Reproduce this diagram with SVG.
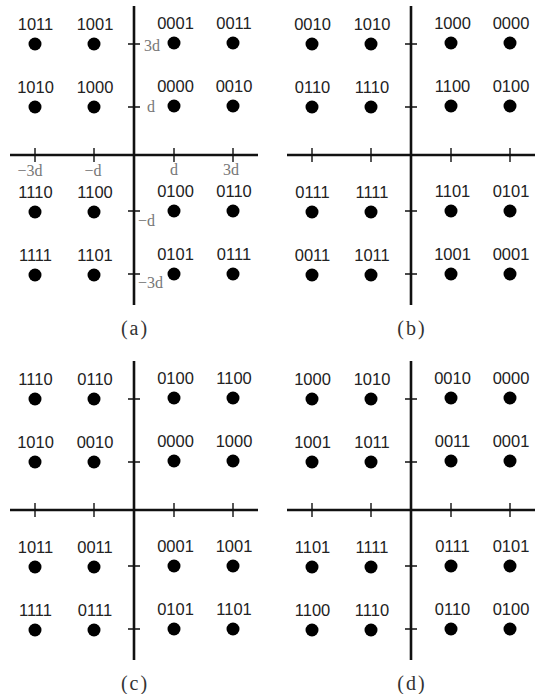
<svg xmlns="http://www.w3.org/2000/svg" width="535" height="694" viewBox="0 0 535 694">
<style>
.ax{stroke:#111;stroke-width:2.6;fill:none}
.tk{stroke:#111;stroke-width:1.4;fill:none}
.dot{fill:#000}
.lb{font-family:"Liberation Sans","Noto Sans",sans-serif;font-size:16.5px;fill:#222;text-anchor:middle}
.tl{font-family:"Liberation Serif","DejaVu Serif",serif;font-size:16px;fill:#777}
.cap{font-family:"Liberation Serif","DejaVu Serif",serif;font-size:20px;fill:#333;text-anchor:middle;letter-spacing:2px}
</style>
<defs>
<g id="axes">
<line class="ax" x1="10" y1="155" x2="258" y2="155"/>
<line class="ax" x1="134" y1="6" x2="134" y2="305"/>
<path class="tk" d="M35 148V162M94 148V162M174 148V162M233 148V162M128 44H140M128 107H140M128 211H140M128 274H140"/>
</g>
</defs>
<rect width="535" height="694" fill="#fff"/>

<!-- Panel (a) -->
<g id="panel-a">
<g id="axes-a" class="connectors"><use href="#axes"/></g>
<g id="ticklabels-a">
<text class="tl" x="144" y="51">3d</text>
<text class="tl" x="147" y="112">d</text>
<text class="tl" x="30" y="176" text-anchor="middle">−3d</text>
<text class="tl" x="93" y="176" text-anchor="middle">−d</text>
<text class="tl" x="174" y="175" text-anchor="middle">d</text>
<text class="tl" x="231" y="175" text-anchor="middle">3d</text>
<text class="tl" x="138" y="226">−d</text>
<text class="tl" x="138" y="288">−3d</text>
</g>
<g id="a-1011"><circle class="dot" cx="35" cy="44" r="6.5"/><text class="lb" x="35.5" y="30">1011</text></g>
<g id="a-1001"><circle class="dot" cx="94" cy="44" r="6.5"/><text class="lb" x="95" y="30">1001</text></g>
<g id="a-0001"><circle class="dot" cx="174" cy="43" r="6.5"/><text class="lb" x="175.5" y="28.5">0001</text></g>
<g id="a-0011"><circle class="dot" cx="233" cy="43" r="6.5"/><text class="lb" x="234" y="28.5">0011</text></g>
<g id="a-1010"><circle class="dot" cx="35" cy="107" r="6.5"/><text class="lb" x="35.5" y="93">1010</text></g>
<g id="a-1000"><circle class="dot" cx="94" cy="107" r="6.5"/><text class="lb" x="95" y="93">1000</text></g>
<g id="a-0000"><circle class="dot" cx="174" cy="106" r="6.5"/><text class="lb" x="175.5" y="91.5">0000</text></g>
<g id="a-0010"><circle class="dot" cx="233" cy="106" r="6.5"/><text class="lb" x="234" y="91.5">0010</text></g>
<g id="a-1110"><circle class="dot" cx="35" cy="212" r="6.5"/><text class="lb" x="35.5" y="198">1110</text></g>
<g id="a-1100"><circle class="dot" cx="94" cy="212" r="6.5"/><text class="lb" x="95" y="198">1100</text></g>
<g id="a-0100"><circle class="dot" cx="174" cy="211" r="6.5"/><text class="lb" x="175.5" y="196.5">0100</text></g>
<g id="a-0110"><circle class="dot" cx="233" cy="211" r="6.5"/><text class="lb" x="234" y="196.5">0110</text></g>
<g id="a-1111"><circle class="dot" cx="35" cy="275" r="6.5"/><text class="lb" x="35.5" y="261">1111</text></g>
<g id="a-1101"><circle class="dot" cx="94" cy="275" r="6.5"/><text class="lb" x="95" y="261">1101</text></g>
<g id="a-0101"><circle class="dot" cx="174" cy="274" r="6.5"/><text class="lb" x="175.5" y="259.5">0101</text></g>
<g id="a-0111"><circle class="dot" cx="233" cy="274" r="6.5"/><text class="lb" x="234" y="259.5">0111</text></g>
<text class="cap" x="135" y="335">(a)</text>
</g>

<!-- Panel (b) -->
<g id="panel-b" transform="translate(277,0)">
<g id="axes-b" class="connectors"><use href="#axes"/></g>
<g id="b-0010"><circle class="dot" cx="35" cy="44" r="6.5"/><text class="lb" x="35.5" y="30">0010</text></g>
<g id="b-1010"><circle class="dot" cx="94" cy="44" r="6.5"/><text class="lb" x="95" y="30">1010</text></g>
<g id="b-1000"><circle class="dot" cx="174" cy="43" r="6.5"/><text class="lb" x="175.5" y="28.5">1000</text></g>
<g id="b-0000"><circle class="dot" cx="233" cy="43" r="6.5"/><text class="lb" x="234" y="28.5">0000</text></g>
<g id="b-0110"><circle class="dot" cx="35" cy="107" r="6.5"/><text class="lb" x="35.5" y="93">0110</text></g>
<g id="b-1110"><circle class="dot" cx="94" cy="107" r="6.5"/><text class="lb" x="95" y="93">1110</text></g>
<g id="b-1100"><circle class="dot" cx="174" cy="106" r="6.5"/><text class="lb" x="175.5" y="91.5">1100</text></g>
<g id="b-0100"><circle class="dot" cx="233" cy="106" r="6.5"/><text class="lb" x="234" y="91.5">0100</text></g>
<g id="b-0111"><circle class="dot" cx="35" cy="212" r="6.5"/><text class="lb" x="35.5" y="198">0111</text></g>
<g id="b-1111"><circle class="dot" cx="94" cy="212" r="6.5"/><text class="lb" x="95" y="198">1111</text></g>
<g id="b-1101"><circle class="dot" cx="174" cy="211" r="6.5"/><text class="lb" x="175.5" y="196.5">1101</text></g>
<g id="b-0101"><circle class="dot" cx="233" cy="211" r="6.5"/><text class="lb" x="234" y="196.5">0101</text></g>
<g id="b-0011"><circle class="dot" cx="35" cy="275" r="6.5"/><text class="lb" x="35.5" y="261">0011</text></g>
<g id="b-1011"><circle class="dot" cx="94" cy="275" r="6.5"/><text class="lb" x="95" y="261">1011</text></g>
<g id="b-1001"><circle class="dot" cx="174" cy="274" r="6.5"/><text class="lb" x="175.5" y="259.5">1001</text></g>
<g id="b-0001"><circle class="dot" cx="233" cy="274" r="6.5"/><text class="lb" x="234" y="259.5">0001</text></g>
<text class="cap" x="135" y="335">(b)</text>
</g>

<!-- Panel (c) -->
<g id="panel-c" transform="translate(0,355)">
<g id="axes-c" class="connectors"><use href="#axes"/></g>
<g id="c-1110"><circle class="dot" cx="35" cy="44" r="6.5"/><text class="lb" x="35.5" y="30">1110</text></g>
<g id="c-0110"><circle class="dot" cx="94" cy="44" r="6.5"/><text class="lb" x="95" y="30">0110</text></g>
<g id="c-0100"><circle class="dot" cx="174" cy="43" r="6.5"/><text class="lb" x="175.5" y="28.5">0100</text></g>
<g id="c-1100"><circle class="dot" cx="233" cy="43" r="6.5"/><text class="lb" x="234" y="28.5">1100</text></g>
<g id="c-1010"><circle class="dot" cx="35" cy="107" r="6.5"/><text class="lb" x="35.5" y="93">1010</text></g>
<g id="c-0010"><circle class="dot" cx="94" cy="107" r="6.5"/><text class="lb" x="95" y="93">0010</text></g>
<g id="c-0000"><circle class="dot" cx="174" cy="106" r="6.5"/><text class="lb" x="175.5" y="91.5">0000</text></g>
<g id="c-1000"><circle class="dot" cx="233" cy="106" r="6.5"/><text class="lb" x="234" y="91.5">1000</text></g>
<g id="c-1011"><circle class="dot" cx="35" cy="212" r="6.5"/><text class="lb" x="35.5" y="198">1011</text></g>
<g id="c-0011"><circle class="dot" cx="94" cy="212" r="6.5"/><text class="lb" x="95" y="198">0011</text></g>
<g id="c-0001"><circle class="dot" cx="174" cy="211" r="6.5"/><text class="lb" x="175.5" y="196.5">0001</text></g>
<g id="c-1001"><circle class="dot" cx="233" cy="211" r="6.5"/><text class="lb" x="234" y="196.5">1001</text></g>
<g id="c-1111"><circle class="dot" cx="35" cy="275" r="6.5"/><text class="lb" x="35.5" y="261">1111</text></g>
<g id="c-0111"><circle class="dot" cx="94" cy="275" r="6.5"/><text class="lb" x="95" y="261">0111</text></g>
<g id="c-0101"><circle class="dot" cx="174" cy="274" r="6.5"/><text class="lb" x="175.5" y="259.5">0101</text></g>
<g id="c-1101"><circle class="dot" cx="233" cy="274" r="6.5"/><text class="lb" x="234" y="259.5">1101</text></g>
<text class="cap" x="135" y="335">(c)</text>
</g>

<!-- Panel (d) -->
<g id="panel-d" transform="translate(277,355)">
<g id="axes-d" class="connectors"><use href="#axes"/></g>
<g id="d-1000"><circle class="dot" cx="35" cy="44" r="6.5"/><text class="lb" x="35.5" y="30">1000</text></g>
<g id="d-1010"><circle class="dot" cx="94" cy="44" r="6.5"/><text class="lb" x="95" y="30">1010</text></g>
<g id="d-0010"><circle class="dot" cx="174" cy="43" r="6.5"/><text class="lb" x="175.5" y="28.5">0010</text></g>
<g id="d-0000"><circle class="dot" cx="233" cy="43" r="6.5"/><text class="lb" x="234" y="28.5">0000</text></g>
<g id="d-1001"><circle class="dot" cx="35" cy="107" r="6.5"/><text class="lb" x="35.5" y="93">1001</text></g>
<g id="d-1011"><circle class="dot" cx="94" cy="107" r="6.5"/><text class="lb" x="95" y="93">1011</text></g>
<g id="d-0011"><circle class="dot" cx="174" cy="106" r="6.5"/><text class="lb" x="175.5" y="91.5">0011</text></g>
<g id="d-0001"><circle class="dot" cx="233" cy="106" r="6.5"/><text class="lb" x="234" y="91.5">0001</text></g>
<g id="d-1101"><circle class="dot" cx="35" cy="212" r="6.5"/><text class="lb" x="35.5" y="198">1101</text></g>
<g id="d-1111"><circle class="dot" cx="94" cy="212" r="6.5"/><text class="lb" x="95" y="198">1111</text></g>
<g id="d-0111"><circle class="dot" cx="174" cy="211" r="6.5"/><text class="lb" x="175.5" y="196.5">0111</text></g>
<g id="d-0101"><circle class="dot" cx="233" cy="211" r="6.5"/><text class="lb" x="234" y="196.5">0101</text></g>
<g id="d-1100"><circle class="dot" cx="35" cy="275" r="6.5"/><text class="lb" x="35.5" y="261">1100</text></g>
<g id="d-1110"><circle class="dot" cx="94" cy="275" r="6.5"/><text class="lb" x="95" y="261">1110</text></g>
<g id="d-0110"><circle class="dot" cx="174" cy="274" r="6.5"/><text class="lb" x="175.5" y="259.5">0110</text></g>
<g id="d-0100"><circle class="dot" cx="233" cy="274" r="6.5"/><text class="lb" x="234" y="259.5">0100</text></g>
<text class="cap" x="135" y="335">(d)</text>
</g>
</svg>
